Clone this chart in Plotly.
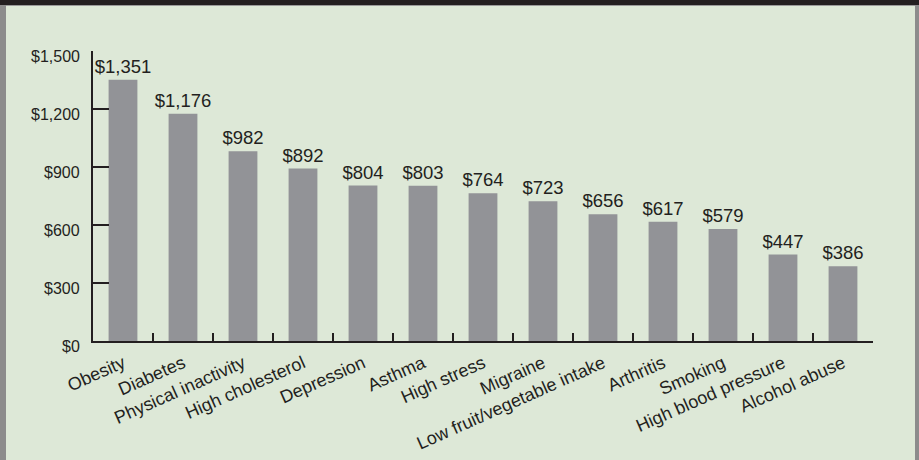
import plotly.graph_objects as go

categories = ["Obesity", "Diabetes", "Physical inactivity", "High cholesterol", "Depression",
              "Asthma", "High stress", "Migraine", "Low fruit/vegetable intake", "Arthritis",
              "Smoking", "High blood pressure", "Alcohol abuse"]
values = [1351, 1176, 982, 892, 804, 803, 764, 723, 656, 617, 579, 447, 386]
y_ticks = [0, 300, 600, 900, 1200, 1500]
y_tick_labels = ["$0", "$300", "$600", "$900", "$1,200", "$1,500"]

BG = "#dde8d7"
BAR = "#929397"
INK = "#231f20"
FONT = "Liberation Sans, Arial, sans-serif"

W, H = 919, 460
L, R, T, B = 93, 46, 51, 119
PW, PH = W - L - R, H - T - B

fig = go.Figure(go.Bar(
    x=categories, y=values,
    marker=dict(color=BAR, line=dict(width=0)),
    text=["${:,}".format(v) for v in values],
    textposition="outside",
    constraintext="none",
    textfont=dict(size=18.5, color=INK, family=FONT),
    cliponaxis=False,
))

def px_x(p):
    return (p - L) / PW

def px_y(p):
    return (H - B - p) / PH

annotations = [
    dict(x=0, xref="paper", y=v, yref="y", text=t, showarrow=False,
         xanchor="right", yanchor="middle", xshift=-11, yshift=-5,
         font=dict(size=16, color=INK, family=FONT))
    for v, t in zip(y_ticks, y_tick_labels)
]

fig.update_layout(
    width=W, height=H,
    margin=dict(l=L, r=R, t=T, b=B, autoexpand=False),
    paper_bgcolor=BG, plot_bgcolor=BG,
    bargap=0.52,
    showlegend=False,
    font=dict(family=FONT, color=INK),
    annotations=annotations,
    shapes=[
        dict(type="rect", xref="paper", yref="paper", x0=px_x(0), x1=px_x(W),
             y0=px_y(5), y1=px_y(0), fillcolor=INK, line=dict(width=0), layer="above"),
        dict(type="rect", xref="paper", yref="paper", x0=px_x(0), x1=px_x(W),
             y0=px_y(6), y1=px_y(5), fillcolor="#9a9a9a", line=dict(width=0), layer="above"),
        dict(type="rect", xref="paper", yref="paper", x0=px_x(0), x1=px_x(6),
             y0=px_y(H), y1=px_y(5), fillcolor="#8c8c8c", line=dict(width=0)),
        dict(type="rect", xref="paper", yref="paper", x0=px_x(915), x1=px_x(W),
             y0=px_y(H), y1=px_y(5), fillcolor="#8c8c8c", line=dict(width=0)),
    ],
)

fig.update_xaxes(
    type="category", tickson="boundaries", automargin=False,
    showline=True, linecolor=INK, linewidth=2,
    ticks="inside", ticklen=8, tickwidth=1.5, tickcolor=INK,
    tickangle=-24, tickfont=dict(size=18, color=INK, family=FONT),
    ticklabelstandoff=3,
    showgrid=False, zeroline=False,
)
fig.update_yaxes(
    range=[0, 1500], tickvals=y_ticks, showticklabels=False, automargin=False,
    showline=True, linecolor=INK, linewidth=2,
    ticks="inside", ticklen=16, tickwidth=1.5, tickcolor=INK,
    showgrid=False, zeroline=False,
)

fig.write_html("out.html", config={"displayModeBar": False},
               post_script="document.body.style.margin='0';document.body.style.background='%s';" % BG)
